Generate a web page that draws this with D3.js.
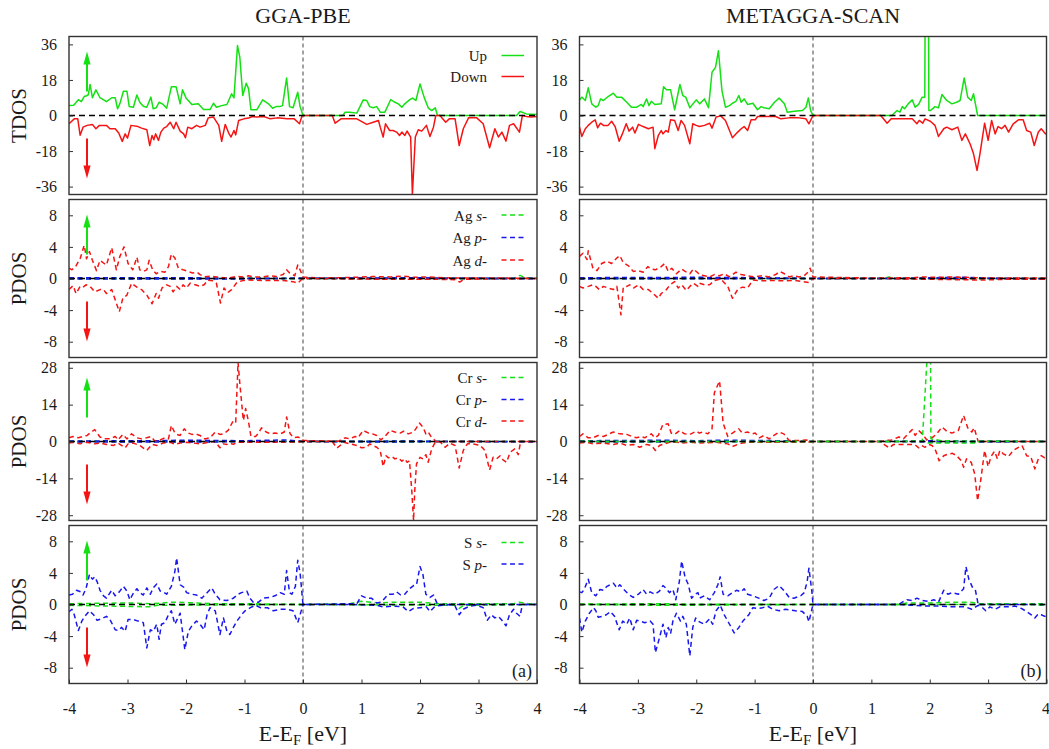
<!DOCTYPE html>
<html><head><meta charset="utf-8">
<script src="https://cdn.jsdelivr.net/npm/d3@7"></script>
<style>
html,body{margin:0;padding:0;background:#fff;}
svg text{font-family:"Liberation Serif","Times New Roman",serif;fill:#1a1a1a;}
</style></head>
<body>
<svg id="chart" width="1049" height="749"></svg>
<script>
// ---------------- DATA (energy E-EF in eV, DOS value) ----------------
const columnTitles = ["GGA-PBE", "METAGGA-SCAN"];
const rowLabels = ["TDOS", "PDOS", "PDOS", "PDOS"];
const rowDomains = [[-40, 40], [-10, 10], [-30, 30], [-10, 10]];
const rowTicks = [[-36, -18, 0, 18, 36], [-8, -4, 0, 4, 8], [-28, -14, 0, 14, 28], [-8, -4, 0, 4, 8]];
const xTicks = [-4, -3, -2, -1, 0, 1, 2, 3, 4];
const panelTags = ["(a)", "(b)"];
const legendTDOS = ["Up", "Down"];
const legendAg = [["Ag ", "s", "-"], ["Ag ", "p", "-"], ["Ag ", "d", "-"]];
const legendCr = [["Cr ", "s", "-"], ["Cr ", "p", "-"], ["Cr ", "d", "-"]];
const legendS = [["S ", "s", "-"], ["S ", "p", "-"]];

// ---- GGA-PBE TDOS
const pbeTdosUp = [[-4.00,5.0],[-3.92,5.2],[-3.84,8],[-3.79,7],[-3.74,9.6],[-3.70,10],[-3.67,10.5],[-3.64,15.7],[-3.60,9],[-3.54,13],[-3.47,9],[-3.36,7],[-3.27,9],[-3.21,9],[-3.17,3.4],[-3.13,6],[-3.07,12.3],[-3.01,12.3],[-2.97,4.5],[-2.90,4.2],[-2.84,10.4],[-2.79,6.7],[-2.73,4.7],[-2.67,4.2],[-2.60,9.3],[-2.56,3.4],[-2.51,3.9],[-2.46,6.7],[-2.39,5.6],[-2.33,3.7],[-2.25,14.6],[-2.17,14.6],[-2.10,5.9],[-2.06,13],[-2.00,8.9],[-1.90,5.6],[-1.79,5.9],[-1.70,3],[-1.59,3],[-1.53,6.2],[-1.48,4.2],[-1.39,5],[-1.30,5.6],[-1.22,11],[-1.18,8.9],[-1.12,35.4],[-1.08,29.5],[-1.03,10.1],[-0.97,16.3],[-0.93,13.5],[-0.89,2.9],[-0.79,2.9],[-0.69,7.9],[-0.59,5.9],[-0.52,3.7],[-0.46,4.5],[-0.40,4.5],[-0.35,5],[-0.28,19],[-0.23,4.5],[-0.17,3.9],[-0.09,11.8],[-0.05,4.5],[0.00,0],[0.68,0],[0.72,1.7],[0.80,1.7],[0.92,1.2],[1.03,7.9],[1.09,7.6],[1.14,4.5],[1.20,3.9],[1.26,4.5],[1.32,1.7],[1.40,1.7],[1.50,8.1],[1.57,6.7],[1.63,5.9],[1.69,4.2],[1.74,5.9],[1.82,7.9],[1.87,8.8],[1.93,7.6],[2.00,16],[2.07,9.3],[2.14,3.9],[2.20,2.5],[2.26,3.9],[2.30,0],[3.65,0],[3.71,2],[3.82,0.8],[4.00,0.5]];
const pbeTdosDown = [[-4.00,-4.2],[-3.91,-1.7],[-3.85,-1.7],[-3.81,-10],[-3.76,-5.9],[-3.69,-5],[-3.60,-4.5],[-3.54,-6.7],[-3.48,-5],[-3.36,-5],[-3.30,-6.7],[-3.21,-6.7],[-3.15,-8.9],[-3.09,-13.1],[-3.04,-9.3],[-3.00,-11.4],[-2.94,-5],[-2.82,-5.6],[-2.76,-6.4],[-2.67,-7.2],[-2.62,-15.2],[-2.58,-10.1],[-2.55,-12.3],[-2.52,-9.3],[-2.47,-12.6],[-2.43,-8.4],[-2.38,-6.4],[-2.33,-5.6],[-2.27,-3.4],[-2.21,-6.7],[-2.17,-3.4],[-2.10,-7.9],[-2.04,-9.3],[-2.01,-11.3],[-1.97,-5.9],[-1.90,-6.7],[-1.82,-5],[-1.76,-5.9],[-1.67,-5],[-1.62,-1.2],[-1.53,-0.8],[-1.44,-5],[-1.39,-13.1],[-1.33,-4.5],[-1.27,-8.9],[-1.23,-10.9],[-1.18,-7.6],[-1.15,-9.8],[-1.10,-2.5],[-1.01,-1.7],[-0.93,-1.3],[-0.87,-0.5],[-0.79,-0.8],[-0.67,-0.5],[-0.56,-1.7],[-0.44,-1.2],[-0.27,-1.7],[-0.15,-1.7],[-0.06,-4.2],[-0.02,-0.5],[0.00,0],[0.50,0],[0.55,-3.9],[0.65,-1.7],[0.80,-1.7],[0.92,-1.7],[1.09,-4.5],[1.20,-3.4],[1.29,-2.5],[1.32,-5.9],[1.37,-10.9],[1.41,-4.2],[1.48,-7.6],[1.54,-7.6],[1.60,-8.4],[1.65,-10.1],[1.69,-8.4],[1.74,-10.1],[1.78,-7.9],[1.84,-10.9],[1.87,-40],[1.92,-10.9],[1.97,-7.2],[2.03,-7.9],[2.11,-5],[2.17,-10.6],[2.23,-5.9],[2.27,0],[2.34,0],[2.44,-3.4],[2.50,-1.7],[2.60,-1.7],[2.67,-15.2],[2.74,-6.7],[2.83,-1.2],[2.97,-1.2],[3.08,-4.2],[3.19,-16.3],[3.28,-6.7],[3.34,-10.9],[3.40,-8.4],[3.47,-13],[3.53,-5],[3.60,-4.2],[3.70,-8.4],[3.75,0],[3.82,-0.5],[3.90,-0.8],[4.00,-0.5]];

// ---- METAGGA-SCAN TDOS
const scanTdosUp = [[-4.00,7.9],[-3.96,9.3],[-3.90,7.6],[-3.85,14],[-3.79,5.9],[-3.72,4.2],[-3.68,5],[-3.64,8.4],[-3.59,7.6],[-3.51,9.6],[-3.42,11.3],[-3.36,9.3],[-3.28,9.3],[-3.19,6.7],[-3.11,4.2],[-3.02,4.2],[-2.94,5.6],[-2.91,4.5],[-2.85,8.4],[-2.81,5],[-2.77,7.2],[-2.71,5.6],[-2.60,5.9],[-2.56,14.6],[-2.51,13],[-2.44,13],[-2.37,2.9],[-2.28,15.7],[-2.23,10.1],[-2.18,9.3],[-2.11,3.9],[-2.00,7.9],[-1.94,5.9],[-1.86,8.4],[-1.79,3.9],[-1.73,21.9],[-1.67,24.4],[-1.62,32.8],[-1.56,12.6],[-1.50,4.2],[-1.43,5],[-1.38,6.2],[-1.32,7.2],[-1.27,10.1],[-1.23,6.7],[-1.18,8.4],[-1.12,5.6],[-1.03,6.2],[-0.95,2.9],[-0.89,4.5],[-0.84,3.9],[-0.75,3.4],[-0.66,6.7],[-0.58,8.8],[-0.49,5.9],[-0.44,1.7],[-0.32,2.2],[-0.18,2.5],[-0.12,4.2],[-0.08,8.9],[-0.04,2.5],[0.00,0],[1.35,0],[1.44,2.5],[1.49,1.7],[1.53,4.5],[1.57,3.4],[1.63,5.9],[1.70,7.9],[1.75,4.2],[1.81,5.6],[1.87,9.3],[1.915,9.3],[1.925,80],[1.975,80],[1.985,2.5],[2.01,2.5],[2.09,4.5],[2.15,3.9],[2.21,10.6],[2.29,7.6],[2.38,5.9],[2.46,6.7],[2.52,7.6],[2.59,19],[2.65,9.3],[2.71,7.6],[2.75,11],[2.82,0],[4.00,0]];
const scanTdosDown = [[-4.00,-5.9],[-3.96,-10.6],[-3.90,-6.7],[-3.85,-5],[-3.79,-3.4],[-3.73,-2.2],[-3.69,-6.2],[-3.64,-3.9],[-3.59,-5],[-3.51,-5],[-3.45,-2.9],[-3.39,-5.6],[-3.32,-13],[-3.26,-8.9],[-3.20,-4.2],[-3.15,-7.9],[-3.09,-5.9],[-3.05,-8.9],[-2.99,-4.5],[-2.91,-5.6],[-2.82,-6.7],[-2.74,-5.9],[-2.71,-16.8],[-2.65,-10.1],[-2.60,-7.6],[-2.57,-9.3],[-2.52,-7.6],[-2.48,-8.4],[-2.44,-2.2],[-2.37,-2.5],[-2.31,-7.6],[-2.26,-2.5],[-2.20,-5],[-2.11,-14.3],[-2.06,-4.2],[-2.00,-5],[-1.945,-5.6],[-1.86,-5],[-1.77,-3.9],[-1.73,-6.4],[-1.66,-0.8],[-1.58,-0.2],[-1.50,-2.5],[-1.38,-11.3],[-1.29,-8.4],[-1.23,-6.7],[-1.18,-5.6],[-1.12,-7.6],[-1.06,-2.2],[-0.99,-2.2],[-0.95,-0.5],[-0.81,-0.5],[-0.64,-0.5],[-0.55,-1.7],[-0.41,-1.2],[-0.24,-1.2],[-0.12,-1.7],[-0.07,-4.2],[0.00,0],[1.16,0],[1.27,-3.9],[1.34,-1.7],[1.47,-1.7],[1.70,-1.7],[1.78,-4.2],[1.82,-2.5],[1.88,-3.9],[1.92,-1.7],[2.01,-2.9],[2.09,-5],[2.15,-10.6],[2.24,-6.7],[2.29,-5.9],[2.38,-7.2],[2.48,-5.9],[2.55,-12.6],[2.61,-9.3],[2.69,-14.3],[2.75,-19.4],[2.81,-27.8],[2.86,-19.4],[2.94,-3.9],[3.00,-12.6],[3.06,-2.5],[3.12,-9.3],[3.17,-5.6],[3.23,-6.7],[3.29,-5],[3.35,-8.4],[3.43,-4.2],[3.52,-2.2],[3.60,-2.2],[3.66,-7.6],[3.73,-8.4],[3.79,-15.2],[3.86,-8.4],[3.91,-6.7],[3.97,-8.9],[4.00,-9.5]];

// ---- GGA-PBE Ag PDOS
const pbeAgSUp = [[-4,0.05],[-2,0.05],[0,0],[3.6,0],[3.71,0.4],[3.8,0.1],[4,0.05]];
const pbeAgSDown = [[-4,-0.03],[0,0],[4,0]];
const pbeAgPUp = [[-4,0.1],[-2,0.1],[-1.5,0.05],[0,0.02],[0.8,0.05],[2.0,0.1],[2.5,0.02],[4,0.02]];
const pbeAgPDown = [[-4,-0.05],[-1,-0.05],[0,0],[4,-0.02]];
const pbeAgDUp = [[-4.00,1.3],[-3.95,1.1],[-3.88,1.6],[-3.81,2.5],[-3.74,4.2],[-3.70,2.5],[-3.65,3.4],[-3.60,2.3],[-3.53,1.0],[-3.47,2.3],[-3.40,1.9],[-3.36,1.7],[-3.27,3.9],[-3.19,1.1],[-3.13,2.8],[-3.06,4.0],[-2.99,1.9],[-2.91,1.1],[-2.84,2.7],[-2.79,1.1],[-2.73,0.9],[-2.67,1.1],[-2.63,2.3],[-2.57,1.1],[-2.51,0.6],[-2.44,0.9],[-2.36,0.8],[-2.30,1.5],[-2.25,3.1],[-2.19,2.6],[-2.13,1.3],[-2.05,1.1],[-1.96,0.9],[-1.89,0.7],[-1.81,0.8],[-1.76,0.5],[-1.69,0.2],[-1.59,0.3],[-1.48,0.2],[-1.30,0.05],[-1.13,0.25],[-1.02,0.2],[-0.93,0.35],[-0.85,0.2],[-0.68,0.2],[-0.56,0.35],[-0.45,0.25],[-0.34,0.5],[-0.28,1.1],[-0.23,0.7],[-0.14,0.35],[-0.09,1.7],[-0.05,1.1],[0.00,0.2],[0.30,0.05],[0.60,0.1],[0.9,0.15],[1.2,0.25],[1.5,0.2],[1.7,0.3],[1.9,0.15],[2.1,0.2],[2.4,0.1],[2.7,0.05],[3.0,0.05],[3.5,0.05],[4.0,0.0]];
const pbeAgDDown = [[-4.00,-1.4],[-3.93,-0.9],[-3.88,-1.9],[-3.81,-1.0],[-3.76,-1.1],[-3.71,-0.8],[-3.64,-1.0],[-3.56,-1.7],[-3.47,-1.4],[-3.41,-1.4],[-3.36,-1.9],[-3.27,-1.4],[-3.21,-2.7],[-3.14,-4.2],[-3.08,-2.5],[-3.01,-2.1],[-2.93,-0.6],[-2.84,-1.1],[-2.76,-1.4],[-2.67,-2.1],[-2.58,-3.2],[-2.51,-1.9],[-2.47,-2.5],[-2.41,-1.2],[-2.33,-0.8],[-2.27,-1.0],[-2.22,-1.7],[-2.16,-1.0],[-2.10,-1.4],[-2.05,-0.8],[-1.99,-1.2],[-1.93,-0.6],[-1.84,-0.8],[-1.76,-1.0],[-1.69,-0.8],[-1.63,-0.2],[-1.53,-0.3],[-1.48,-0.6],[-1.41,-3.1],[-1.35,-1.2],[-1.29,-1.8],[-1.22,-1.4],[-1.13,-0.5],[-1.05,-0.3],[-0.96,-0.2],[-0.68,-0.25],[-0.34,-0.25],[-0.17,-0.4],[-0.09,-0.6],[-0.02,-0.1],[0.00,0],[0.8,-0.05],[1.5,-0.1],[2.3,-0.1],[2.6,-0.15],[2.68,-0.45],[2.75,-0.1],[3.2,-0.05],[4.0,0]];

// ---- METAGGA-SCAN Ag PDOS
const scanAgSUp = [[-4,0.05],[0,0],[1.2,0],[1.3,0.2],[1.4,0],[4,0]];
const scanAgSDown = [[-4,-0.03],[0,0],[4,0]];
const scanAgPUp = [[-4,0.1],[-2,0.15],[-1,0.1],[0,0],[1.5,0],[2.0,0.1],[2.6,0.15],[3,0.05],[4,0]];
const scanAgPDown = [[-4,-0.05],[0,0],[4,-0.02]];
const scanAgDUp = [[-4.00,2.8],[-3.94,3.2],[-3.87,2.4],[-3.85,3.5],[-3.77,1.3],[-3.70,1.0],[-3.62,1.9],[-3.53,2.2],[-3.45,1.9],[-3.36,2.6],[-3.31,2.9],[-3.25,2.0],[-3.16,1.6],[-3.08,0.9],[-3.00,1.0],[-2.91,0.8],[-2.83,1.5],[-2.77,1.2],[-2.70,1.1],[-2.60,1.5],[-2.54,1.9],[-2.48,0.9],[-2.42,1.3],[-2.34,0.6],[-2.25,1.2],[-2.19,0.9],[-2.11,0.6],[-2.05,1.2],[-1.97,0.7],[-1.945,0.5],[-1.86,0.35],[-1.77,0.2],[-1.69,0.5],[-1.60,0.35],[-1.52,0.6],[-1.43,0.2],[-1.32,0.8],[-1.23,0.5],[-1.12,0.35],[-1.01,0.2],[-0.86,0.35],[-0.75,0.2],[-0.64,0.5],[-0.57,0.9],[-0.49,0.6],[-0.41,0.2],[-0.32,0.35],[-0.24,0.2],[-0.15,0.35],[-0.10,0.7],[-0.05,1.3],[0.00,0.2],[1.0,0.05],[1.7,0.1],[1.9,0.2],[2.1,0.15],[2.4,0.2],[2.6,0.15],[2.8,0.1],[3.2,0.05],[4.0,0.05]];
const scanAgDDown = [[-4.00,-1.0],[-3.94,-1.2],[-3.85,-1.0],[-3.77,-0.8],[-3.72,-1.0],[-3.66,-1.4],[-3.59,-1.0],[-3.51,-1.2],[-3.42,-1.4],[-3.36,-1.0],[-3.29,-4.6],[-3.25,-1.1],[-3.19,-1.0],[-3.14,-0.8],[-3.07,-1.2],[-2.99,-0.8],[-2.91,-1.4],[-2.82,-1.4],[-2.74,-1.9],[-2.65,-2.5],[-2.60,-1.9],[-2.51,-1.4],[-2.45,-0.8],[-2.37,-0.4],[-2.31,-1.2],[-2.25,-0.8],[-2.17,-1.5],[-2.11,-1.0],[-2.05,-0.6],[-1.97,-1.0],[-1.945,-0.6],[-1.86,-0.8],[-1.77,-0.8],[-1.69,-0.25],[-1.58,-0.05],[-1.46,-1.0],[-1.38,-2.5],[-1.29,-1.4],[-1.21,-1.1],[-1.12,-1.2],[-1.03,-0.2],[-0.9,-0.3],[-0.7,-0.25],[-0.5,-0.3],[-0.3,-0.25],[-0.07,-0.5],[0.00,0],[1.2,0],[1.5,-0.05],[2.0,-0.1],[2.5,-0.15],[2.9,-0.2],[3.3,-0.1],[4,-0.1]];

// ---- GGA-PBE Cr PDOS
const pbeCrSUp = [[-4,0.1],[-2,0.2],[-1.1,0.3],[0,0],[1.0,0.1],[2.0,0.2],[2.3,0],[4,0]];
const pbeCrSDown = [[-4,-0.05],[0,0],[1.9,-0.2],[2.3,0],[4,0]];
const pbeCrPUp = [[-4,0.2],[-2.5,0.3],[-2.0,0.5],[-1.5,0.4],[-1.0,0.3],[-0.5,0.5],[-0.3,0.6],[0,0],[1.0,0.1],[2.0,0.2],[2.3,0],[4,0]];
const pbeCrPDown = [[-4,-0.2],[-2,-0.2],[0,0],[1.5,-0.2],[2.3,0],[4,-0.1]];
const pbeCrDUp = [[-4.00,1.4],[-3.93,1.9],[-3.84,1.4],[-3.76,1.9],[-3.69,2.3],[-3.62,3.6],[-3.56,4.5],[-3.47,1.7],[-3.39,1.0],[-3.30,1.0],[-3.21,1.9],[-3.16,0.6],[-3.08,2.7],[-3.01,1.0],[-2.93,2.9],[-2.84,1.4],[-2.76,1.0],[-2.67,1.4],[-2.60,1.9],[-2.53,0.1],[-2.44,0.6],[-2.36,1.4],[-2.30,1.0],[-2.25,6.1],[-2.19,3.2],[-2.16,2.7],[-2.10,2.3],[-2.03,4.8],[-1.96,3.2],[-1.90,2.7],[-1.84,2.9],[-1.76,2.3],[-1.68,1.0],[-1.59,1.4],[-1.50,3.6],[-1.42,2.7],[-1.36,2.9],[-1.28,4.2],[-1.19,8.0],[-1.15,7.4],[-1.11,30],[-1.08,22],[-1.02,8.0],[-0.98,12.5],[-0.93,7.4],[-0.89,1.9],[-0.81,1.9],[-0.76,3.2],[-0.71,5.2],[-0.63,3.6],[-0.56,2.9],[-0.48,3.2],[-0.39,2.9],[-0.32,3.6],[-0.28,9.3],[-0.22,2.9],[-0.16,1.4],[-0.08,1.7],[-0.02,0.9],[0.00,0.4],[0.6,0.05],[0.72,1.4],[0.80,1.0],[0.89,1.9],[0.94,1.4],[1.03,4.2],[1.12,3.2],[1.19,2.9],[1.26,2.3],[1.33,0.6],[1.40,1.9],[1.49,4.2],[1.57,3.6],[1.66,3.2],[1.72,3.9],[1.80,2.9],[1.89,3.6],[1.94,5.2],[1.99,7.0],[2.05,5.5],[2.10,2.9],[2.14,3.6],[2.20,1.4],[2.23,1.0],[2.27,0],[4.0,0]];
const pbeCrDDown = [[-4.00,-0.6],[-3.93,-0.3],[-3.81,-0.9],[-3.70,-0.3],[-3.56,-0.9],[-3.47,-0.6],[-3.36,-1.1],[-3.24,-1.5],[-3.16,-0.6],[-3.04,-2.4],[-2.99,-0.9],[-2.90,-0.6],[-2.79,-1.5],[-2.67,-3.4],[-2.58,-1.1],[-2.50,-1.5],[-2.39,-0.6],[-2.27,-0.3],[-2.19,-1.1],[-2.10,-0.6],[-1.99,-0.3],[-1.87,-0.6],[-1.76,-0.9],[-1.62,-0.3],[-1.50,0],[-1.42,-2.4],[-1.36,-0.9],[-1.30,-1.1],[-1.25,-0.6],[-1.19,-1.1],[-1.13,-0.3],[-1.02,-0.3],[-0.5,-0.3],[-0.2,-0.2],[0.00,0],[0.5,0],[0.58,-2.5],[0.70,-0.3],[0.80,-0.9],[0.92,-1.5],[1.00,-2.4],[1.09,-2.2],[1.14,-0.9],[1.26,-2.2],[1.32,-3.4],[1.37,-9.5],[1.42,-5.4],[1.46,-6.2],[1.52,-5.7],[1.57,-6.6],[1.63,-6.2],[1.69,-7.5],[1.74,-6.6],[1.78,-7.9],[1.82,-7.3],[1.86,-18.8],[1.89,-30],[1.91,-18.8],[1.94,-8.5],[2.00,-6.0],[2.05,-6.6],[2.10,-5.0],[2.14,-7.9],[2.20,-2.8],[2.26,-0.3],[2.34,0],[2.43,-2.2],[2.51,-0.6],[2.60,-1.5],[2.67,-10.1],[2.74,-3.4],[2.81,-0.9],[2.91,-0.9],[3.03,-1.5],[3.11,-3.4],[3.19,-10.8],[3.25,-6.0],[3.31,-6.6],[3.37,-5.4],[3.42,-7.0],[3.48,-7.9],[3.54,-4.1],[3.62,-2.8],[3.68,-5.0],[3.72,0],[4.0,0]];

// ---- METAGGA-SCAN Cr PDOS
const scanCrSUp = [[-4,0.05],[0,0],[1.5,0],[1.87,0.2],[1.88,3],[1.95,30],[1.97,60],[2.0,60],[2.012,40],[2.02,1],[2.2,0.3],[2.83,0.1],[4,0]];
const scanCrSDown = [[-4,0],[0,0],[1.9,0],[1.95,-0.6],[2.8,-0.6],[2.85,0],[4,0]];
const scanCrPUp = [[-4,0.3],[-3,0.4],[-2.5,0.5],[-2,0.3],[-1.5,0.5],[-1,0.4],[-0.5,0.3],[0,0],[1.2,0],[2.0,0.3],[2.8,0.2],[4,0.1]];
const scanCrPDown = [[-4,-0.2],[-2,-0.2],[0,0],[1.2,0],[2.0,-0.2],[2.8,-0.2],[4,-0.1]];
const scanCrDUp = [[-4.00,1.9],[-3.94,2.9],[-3.85,1.4],[-3.77,1.4],[-3.68,2.3],[-3.59,1.9],[-3.51,2.7],[-3.42,3.6],[-3.31,2.9],[-3.19,2.7],[-3.10,1.9],[-3.02,1.4],[-2.94,1.9],[-2.88,1.4],[-2.82,2.3],[-2.77,2.9],[-2.71,1.4],[-2.65,2.3],[-2.57,6.5],[-2.48,6.7],[-2.43,3.2],[-2.37,2.7],[-2.28,4.2],[-2.20,2.9],[-2.11,2.7],[-2.00,3.9],[-1.945,3.2],[-1.88,3.6],[-1.80,2.9],[-1.73,4.8],[-1.69,18.5],[-1.60,23],[-1.54,7],[-1.46,1.9],[-1.38,3.2],[-1.27,4.8],[-1.21,3.2],[-1.12,3.6],[-1.05,2.9],[-0.99,3.2],[-0.92,1.4],[-0.84,2.3],[-0.75,1.0],[-0.67,2.3],[-0.58,3.6],[-0.50,2.9],[-0.41,0.4],[-0.24,0.4],[-0.12,0.6],[0.00,0],[1.16,0],[1.24,0.4],[1.35,0.6],[1.47,1.7],[1.55,1.0],[1.64,3.2],[1.70,4.5],[1.75,2.3],[1.81,4.2],[1.87,2.9],[1.95,0.6],[2.04,1.4],[2.12,2.9],[2.21,5.5],[2.29,3.9],[2.38,3.2],[2.49,4.2],[2.58,9.9],[2.65,5.2],[2.72,3.6],[2.76,5.2],[2.83,0],[4.0,0]];
const scanCrDDown = [[-4.00,-0.6],[-3.88,-0.3],[-3.77,-0.9],[-3.59,-0.6],[-3.42,-1.1],[-3.31,-0.6],[-3.19,-1.5],[-3.08,-1.1],[-2.97,-2.2],[-2.85,-1.1],[-2.77,-1.5],[-2.70,-3.4],[-2.63,-1.5],[-2.54,-0.9],[-2.46,-0.3],[-2.34,-0.3],[-2.23,-0.6],[-2.11,-0.3],[-1.945,-0.6],[-1.66,-0.3],[-1.46,-0.9],[-1.38,-1.9],[-1.29,-1.1],[-1.21,-0.6],[-1.09,-0.3],[-0.5,-0.3],[-0.1,-0.2],[0.00,0],[1.16,0],[1.24,-1.5],[1.31,-2.4],[1.38,-1.1],[1.47,-1.1],[1.64,-1.1],[1.74,-1.1],[1.81,-2.4],[1.86,-1.5],[1.92,-2.2],[1.98,-1.1],[2.04,-1.5],[2.10,-3.4],[2.16,-7.3],[2.24,-5.4],[2.31,-4.8],[2.39,-4.5],[2.46,-5.4],[2.54,-7.3],[2.58,-9.8],[2.63,-6.6],[2.71,-7.9],[2.77,-12.3],[2.82,-22.5],[2.88,-13.6],[2.94,-3.4],[3.00,-9.5],[3.05,-5.7],[3.11,-3.7],[3.16,-6.6],[3.20,-3.4],[3.26,-4.7],[3.35,-5.7],[3.43,-3.4],[3.52,-2.2],[3.58,-1.5],[3.66,-5.4],[3.73,-5.7],[3.80,-10.4],[3.86,-6.6],[3.91,-5.4],[3.97,-6.2],[4.0,-6.0]];

// ---- GGA-PBE S PDOS
const pbeSSUp = [[-4,0.1],[-3.0,0.2],[-2.6,0.1],[-2.2,0.3],[-1.5,0.1],[-1,0.1],[0,0],[0.8,0.1],[1.0,0.4],[1.3,0.2],[1.6,0.3],[2.0,0.3],[2.3,0.1],[3.6,0.1],[3.7,0.3],[3.85,0.1],[4,0.05]];
const pbeSSDown = [[-4,-0.1],[-2.6,-0.3],[-2.5,-0.1],[0,0],[2.6,-0.1],[2.67,-0.5],[2.75,-0.1],[4,0]];
const pbeSPUp = [[-4.00,1.2],[-3.94,1.3],[-3.87,1.8],[-3.80,1.6],[-3.76,1.2],[-3.71,2.0],[-3.65,3.8],[-3.60,3.2],[-3.56,3.5],[-3.52,2.9],[-3.47,1.8],[-3.41,1.1],[-3.36,0.8],[-3.27,1.8],[-3.21,1.1],[-3.14,1.6],[-3.07,2.3],[-3.01,1.7],[-2.96,0.6],[-2.91,1.3],[-2.84,2.0],[-2.79,1.5],[-2.73,1.2],[-2.67,2.1],[-2.61,1.3],[-2.56,2.1],[-2.50,2.6],[-2.44,1.7],[-2.39,1.6],[-2.33,1.3],[-2.25,2.3],[-2.19,4.2],[-2.16,5.9],[-2.10,2.5],[-2.04,2.2],[-1.99,1.5],[-1.90,1.3],[-1.82,1.2],[-1.73,0.8],[-1.64,1.5],[-1.56,2.1],[-1.50,1.3],[-1.42,0.6],[-1.30,0.5],[-1.19,0.8],[-1.11,1.3],[-1.05,1.5],[-0.96,1.7],[-0.91,0.8],[-0.85,0.3],[-0.76,0.3],[-0.68,0.8],[-0.56,0.9],[-0.48,1.1],[-0.39,1.5],[-0.32,1.3],[-0.28,4.3],[-0.23,1.5],[-0.19,1.3],[-0.13,2.3],[-0.09,5.6],[-0.05,4.0],[0.00,0],[0.5,0.05],[0.80,0.1],[0.92,0.1],[1.00,1.1],[1.09,0.8],[1.17,0.8],[1.26,0.2],[1.34,0.3],[1.46,1.3],[1.54,1.3],[1.60,1.6],[1.67,1.2],[1.74,1.3],[1.82,2.0],[1.89,2.4],[1.94,2.5],[2.00,4.8],[2.05,3.8],[2.10,1.3],[2.17,0.9],[2.23,1.2],[2.30,0],[4.0,0]];
const pbeSPDown = [[-4.00,-0.9],[-3.95,-0.6],[-3.91,-1.3],[-3.84,-3.3],[-3.78,-2.1],[-3.73,-1.5],[-3.65,-0.8],[-3.58,-1.3],[-3.52,-2.0],[-3.44,-1.8],[-3.36,-1.5],[-3.30,-1.9],[-3.21,-3.2],[-3.16,-3.3],[-3.10,-2.9],[-3.04,-3.4],[-2.99,-1.9],[-2.90,-1.9],[-2.82,-2.1],[-2.73,-2.3],[-2.67,-5.5],[-2.61,-3.2],[-2.56,-3.4],[-2.50,-2.5],[-2.46,-4.4],[-2.42,-2.5],[-2.36,-2.3],[-2.30,-1.3],[-2.25,-0.8],[-2.19,-2.5],[-2.10,-1.1],[-2.02,-5.7],[-1.96,-3.4],[-1.90,-2.7],[-1.82,-2.1],[-1.76,-2.5],[-1.69,-3.2],[-1.64,-1.3],[-1.59,-0.4],[-1.50,-0.8],[-1.42,-3.8],[-1.36,-1.7],[-1.30,-3.4],[-1.25,-3.8],[-1.19,-2.9],[-1.13,-2.1],[-1.05,-1.3],[-0.99,-0.8],[-0.90,-0.4],[-0.81,-0.1],[-0.73,-0.4],[-0.61,-0.4],[-0.51,-0.8],[-0.39,-0.6],[-0.28,-0.6],[-0.17,-0.8],[-0.09,-2.3],[-0.05,-1.3],[0.00,0],[0.80,0],[1.26,-0.1],[1.37,-0.3],[1.54,-0.2],[1.71,-0.3],[1.80,-0.9],[1.89,-0.5],[2.00,-0.4],[2.11,-0.3],[2.17,-0.9],[2.26,-0.2],[2.40,-0.1],[2.51,0],[2.60,-0.2],[2.67,-1.3],[2.74,-0.6],[2.85,-0.2],[2.97,-0.1],[3.08,-0.4],[3.15,-2.0],[3.22,-1.3],[3.28,-1.7],[3.34,-1.5],[3.40,-2.0],[3.47,-2.7],[3.53,-1.3],[3.60,-0.6],[3.65,-1.1],[3.71,-1.5],[3.75,0],[4.0,0]];

// ---- METAGGA-SCAN S PDOS
const scanSSUp = [[-4,0.05],[-2.5,0.1],[-2.3,0.05],[0,0],[1.5,0],[1.6,0.2],[2.0,0.2],[2.4,0.3],[2.7,0.3],[2.83,0.1],[3.9,0.1],[4,0.1]];
const scanSSDown = [[-4,0],[-2.6,-0.1],[-2.5,-0.1],[0,0],[3.8,0],[3.9,-0.1],[4,-0.1]];
const scanSPUp = [[-4.00,1.6],[-3.96,1.5],[-3.92,1.9],[-3.85,3.2],[-3.79,1.5],[-3.72,1.1],[-3.65,1.9],[-3.59,1.8],[-3.53,2.3],[-3.42,2.7],[-3.36,2.1],[-3.31,2.5],[-3.24,1.9],[-3.16,1.3],[-3.08,0.9],[-2.99,1.3],[-2.91,1.9],[-2.85,1.3],[-2.79,1.6],[-2.71,1.3],[-2.63,1.7],[-2.57,2.4],[-2.51,2.0],[-2.46,1.5],[-2.40,1.9],[-2.35,0.6],[-2.29,2.9],[-2.25,5.5],[-2.19,3.4],[-2.14,2.6],[-2.08,0.8],[-2.02,1.3],[-1.97,1.5],[-1.945,0.8],[-1.86,1.1],[-1.77,0.6],[-1.69,1.5],[-1.63,2.5],[-1.59,3.5],[-1.54,1.3],[-1.46,1.1],[-1.38,1.5],[-1.31,1.8],[-1.23,1.6],[-1.18,2.0],[-1.12,1.3],[-1.03,1.1],[-0.93,0.8],[-0.84,0.5],[-0.75,0.8],[-0.67,1.9],[-0.58,2.4],[-0.49,1.7],[-0.41,0.9],[-0.33,0.8],[-0.21,1.1],[-0.15,1.5],[-0.10,2.9],[-0.07,4.6],[-0.02,1.7],[0.00,0],[1.47,0],[1.53,0.3],[1.61,0.6],[1.70,0.5],[1.78,0.8],[1.87,0.5],[1.98,0.4],[2.07,0.6],[2.15,0.3],[2.24,1.8],[2.31,1.3],[2.39,1.5],[2.49,1.3],[2.58,2.0],[2.62,4.8],[2.67,3.2],[2.73,2.2],[2.78,1.9],[2.83,0],[4.0,0]];
const scanSPDown = [[-4.00,-1.7],[-3.96,-3.5],[-3.90,-2.1],[-3.83,-1.1],[-3.76,-0.4],[-3.72,-0.8],[-3.68,-1.6],[-3.61,-1.5],[-3.54,-1.3],[-3.47,-0.9],[-3.40,-1.5],[-3.32,-3.2],[-3.26,-2.1],[-3.19,-2.5],[-3.14,-1.7],[-3.08,-3.2],[-3.02,-2.0],[-2.96,-2.1],[-2.88,-2.3],[-2.79,-2.1],[-2.74,-2.5],[-2.70,-6.1],[-2.63,-4.2],[-2.57,-2.5],[-2.52,-4.2],[-2.48,-2.9],[-2.44,-3.7],[-2.40,-2.1],[-2.34,-1.1],[-2.27,-2.1],[-2.23,-1.5],[-2.17,-2.5],[-2.11,-6.5],[-2.06,-2.9],[-2.01,-1.7],[-1.945,-2.2],[-1.86,-2.5],[-1.77,-1.8],[-1.72,-2.5],[-1.66,-0.8],[-1.59,-0.1],[-1.52,-1.3],[-1.43,-2.5],[-1.35,-3.6],[-1.27,-2.9],[-1.20,-2.1],[-1.10,-1.3],[-1.03,-0.4],[-0.95,-0.5],[-0.86,-0.4],[-0.78,-0.2],[-0.69,-0.6],[-0.58,-0.8],[-0.47,-0.6],[-0.30,-0.8],[-0.18,-0.9],[-0.10,-1.5],[-0.07,-2.2],[0.00,0],[1.47,0],[1.70,-0.1],[1.92,-0.2],[2.15,-0.2],[2.38,-0.3],[2.61,-0.3],[2.72,-0.6],[2.83,-0.1],[2.89,-0.3],[2.96,-0.8],[3.03,-0.3],[3.12,-0.6],[3.20,-0.3],[3.34,-0.3],[3.46,-0.2],[3.57,-0.5],[3.66,-0.9],[3.74,-1.3],[3.80,-1.7],[3.86,-1.2],[3.91,-1.3],[3.97,-1.5],[4.0,-1.4]];

// ---------------- STYLE ----------------
const GREEN = "#14e014", RED = "#f51414", BLUE = "#1818ee";
const DASH = "5,3.5";

// series table built from the arrays above: [col][row] -> list
const series = [
  [
    [{d:pbeTdosUp,c:GREEN},{d:pbeTdosDown,c:RED}],
    [{d:pbeAgSUp,c:GREEN,dash:1},{d:pbeAgSDown,c:GREEN,dash:1},{d:pbeAgPUp,c:BLUE,dash:1},{d:pbeAgPDown,c:BLUE,dash:1},{d:pbeAgDUp,c:RED,dash:1},{d:pbeAgDDown,c:RED,dash:1}],
    [{d:pbeCrSUp,c:GREEN,dash:1},{d:pbeCrSDown,c:GREEN,dash:1},{d:pbeCrPUp,c:BLUE,dash:1},{d:pbeCrPDown,c:BLUE,dash:1},{d:pbeCrDUp,c:RED,dash:1},{d:pbeCrDDown,c:RED,dash:1}],
    [{d:pbeSSUp,c:GREEN,dash:1},{d:pbeSSDown,c:GREEN,dash:1},{d:pbeSPUp,c:BLUE,dash:1},{d:pbeSPDown,c:BLUE,dash:1}]
  ],
  [
    [{d:scanTdosUp,c:GREEN},{d:scanTdosDown,c:RED}],
    [{d:scanAgSUp,c:GREEN,dash:1},{d:scanAgSDown,c:GREEN,dash:1},{d:scanAgPUp,c:BLUE,dash:1},{d:scanAgPDown,c:BLUE,dash:1},{d:scanAgDUp,c:RED,dash:1},{d:scanAgDDown,c:RED,dash:1}],
    [{d:scanCrPUp,c:BLUE,dash:1},{d:scanCrPDown,c:BLUE,dash:1},{d:scanCrDUp,c:RED,dash:1},{d:scanCrDDown,c:RED,dash:1},{d:scanCrSUp,c:GREEN,dash:1},{d:scanCrSDown,c:GREEN,dash:1}],
    [{d:scanSSUp,c:GREEN,dash:1},{d:scanSSDown,c:GREEN,dash:1},{d:scanSPUp,c:BLUE,dash:1},{d:scanSPDown,c:BLUE,dash:1}]
  ]
];
const legends = [
  {items: legendTDOS, colors:[GREEN, RED], dash:false, dy:[19,40]},
  {items: legendAg, colors:[GREEN, BLUE, RED], dash:true, dy:[15.5,38,60.5]},
  {items: legendCr, colors:[GREEN, BLUE, RED], dash:true, dy:[15,37,58.5]},
  {items: legendS, colors:[GREEN, BLUE], dash:true, dy:[17,38.5]}
];

// ---------------- LAYOUT ----------------
const colX = [[69, 537], [579.5, 1046.5]];
const rowTop = [36.5, 199.5, 362.5, 525.5];
const rowH = 158;
const fmt = d => String(d); // plain hyphen-minus like the reference

const svg = d3.select("#chart");
const defs = svg.append("defs");

colX.forEach((cx, ci) => {
  const x = d3.scaleLinear().domain([-4, 4]).range(cx);
  rowTop.forEach((top, ri) => {
    const y = d3.scaleLinear().domain(rowDomains[ri]).range([top + rowH, top]);
    const g = svg.append("g");
    const clipId = `clip-${ci}-${ri}`;
    defs.append("clipPath").attr("id", clipId).append("rect")
      .attr("x", cx[0]).attr("y", top).attr("width", cx[1] - cx[0]).attr("height", rowH);

    const plot = g.append("g").attr("clip-path", `url(#${clipId})`);
    // vertical Fermi line
    plot.append("line").attr("x1", x(0)).attr("x2", x(0)).attr("y1", top).attr("y2", top + rowH)
      .attr("stroke", "#444").attr("stroke-width", 1).attr("stroke-dasharray", "4,3");

    const line = d3.line().x(d => x(d[0])).y(d => y(d[1]));
    series[ci][ri].forEach(s => {
      plot.append("path").datum(s.d).attr("d", line)
        .attr("fill", "none").attr("stroke", s.c).attr("stroke-width", 1.5)
        .attr("stroke-linejoin", "round")
        .attr("stroke-dasharray", s.dash ? DASH : null);
    });
    // zero line
    plot.append("line").attr("x1", cx[0]).attr("x2", cx[1]).attr("y1", y(0)).attr("y2", y(0))
      .attr("stroke", "#000").attr("stroke-width", 1.5).attr("stroke-dasharray", "6,4");

    // y axis
    const ya = g.append("g").attr("transform", `translate(${cx[0]},0)`)
      .call(d3.axisLeft(y).tickValues(rowTicks[ri]).tickSizeInner(-4).tickSizeOuter(0).tickPadding(12).tickFormat(fmt));
    ya.attr("font-family", null);
    ya.select(".domain").remove();
    ya.selectAll(".tick line").attr("stroke", "#333").attr("stroke-width", 1);
    ya.selectAll("text").attr("font-size", 16).attr("font-family", "Liberation Serif").attr("fill", "#1a1a1a");

    // x axis on bottom row
    if (ri === 3) {
      const xa = g.append("g").attr("transform", `translate(0,${top + rowH})`)
        .call(d3.axisBottom(x).tickValues(xTicks).tickSizeInner(-4).tickSizeOuter(0).tickPadding(19).tickFormat(fmt));
      xa.attr("font-family", null);
      xa.select(".domain").remove();
      xa.selectAll(".tick line").attr("stroke", "#333").attr("stroke-width", 1);
      xa.selectAll("text").attr("font-size", 16).attr("font-family", "Liberation Serif").attr("fill", "#1a1a1a");
      if (ci === 1) {
        // keep the last label inside the window
        xa.selectAll(".tick").filter(d => d === 4).select("text").attr("text-anchor", "end").attr("dx", 3);
      }
      g.append("text").attr("x", cx[1] - 5).attr("y", top + rowH - 7)
        .attr("text-anchor", "end").attr("font-size", 18).text(panelTags[ci]);
    }

    // frame
    g.append("rect").attr("x", cx[0]).attr("y", top).attr("width", cx[1] - cx[0]).attr("height", rowH)
      .attr("fill", "none").attr("stroke", "#333").attr("stroke-width", 1.4);

    if (ci === 0) {
      // y label
      g.append("text").attr("transform", `translate(26,${top + rowH / 2}) rotate(-90)`)
        .attr("text-anchor", "middle").attr("font-size", 21).text(rowLabels[ri]);
      // spin arrows
      const ax = 87;
      const arrow = (y1, y2, col) => {
        const dir = Math.sign(y2 - y1);
        g.append("line").attr("x1", ax).attr("x2", ax).attr("y1", y1).attr("y2", y2 - dir * 11)
          .attr("stroke", col).attr("stroke-width", 2);
        g.append("path").attr("d", `M${ax},${y2} L${ax - 3.6},${y2 - dir * 13} L${ax + 3.6},${y2 - dir * 13} Z`)
          .attr("fill", col);
      };
      arrow(top + 55, top + 15, GREEN);
      arrow(top + 102, top + 142, RED);
      // legend
      const lg = legends[ri];
      lg.items.forEach((it, k) => {
        const ly = top + lg.dy[k];
        const t = g.append("text").attr("x", 487).attr("y", ly + 5.5).attr("text-anchor", "end").attr("font-size", 15);
        if (typeof it === "string") t.text(it);
        else {
          t.append("tspan").text(it[0]);
          t.append("tspan").attr("font-style", "italic").text(it[1]);
          t.append("tspan").text(it[2]);
        }
        g.append("line").attr("x1", 501.5).attr("x2", 524).attr("y1", ly).attr("y2", ly)
          .attr("stroke", lg.colors[k]).attr("stroke-width", 1.5)
          .attr("stroke-dasharray", lg.dash ? DASH : null);
      });
    }
  });
  // column title & x label
  const mid = x(0);
  svg.append("text").attr("x", (cx[0] + cx[1]) / 2).attr("y", 23).attr("text-anchor", "middle")
    .attr("font-size", 22).text(columnTitles[ci]);
  const xl = svg.append("text").attr("x", mid).attr("y", 741).attr("text-anchor", "middle").attr("font-size", 22);
  xl.append("tspan").text("E-E");
  xl.append("tspan").attr("font-size", 15).attr("dy", 4).text("F");
  xl.append("tspan").attr("dy", -4).text(" [eV]");
});
</script>
</body></html>
